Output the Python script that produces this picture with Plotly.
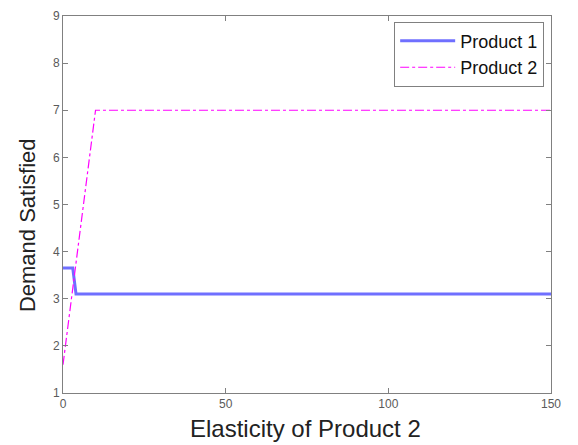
import plotly.graph_objects as go

p1_x = [0, 3, 4, 150]
p1_y = [3.65, 3.65, 3.1, 3.1]
p2_x = [0, 10, 150]
p2_y = [1.6, 7.0, 7.0]
x_ticks = [0, 50, 100, 150]
y_ticks = [1, 2, 3, 4, 5, 6, 7, 8, 9]
x_title = "Elasticity of Product 2"
y_title = "Demand Satisfied"

fig = go.Figure()
fig.add_trace(go.Scatter(x=p1_x, y=p1_y, mode="lines", name="Product 1",
                         line=dict(color="#6f6fff", width=3)))
fig.add_trace(go.Scatter(x=p2_x, y=p2_y, mode="lines", name="Product 2",
                         line=dict(color="#ff00ff", width=1.2, dash="dashdot")))

axis_common = dict(showgrid=False, zeroline=False, showline=True, linecolor="#808080",
                   linewidth=1, mirror="ticks", ticks="inside", ticklen=5, tickcolor="#808080",
                   tickfont=dict(family="Liberation Sans, Arial", size=12, color="#5a5a5a"))
fig.update_xaxes(range=[0, 150], tickvals=x_ticks, **axis_common)
fig.update_yaxes(range=[1, 9], tickvals=y_ticks, **axis_common)

title_font = dict(family="Liberation Sans, Arial", size=24, color="#222222")
fig.add_annotation(text=x_title, xref="paper", yref="paper", x=0.497, y=-0.094,
                   xanchor="center", yanchor="middle", showarrow=False, font=title_font)
fig.add_annotation(text=y_title, xref="paper", yref="paper", x=-0.074, y=0.445,
                   xanchor="center", yanchor="middle", textangle=-90, showarrow=False,
                   font=dict(family="Liberation Sans, Arial", size=22, color="#222222"))

fig.update_layout(
    width=578, height=445,
    margin=dict(l=63, r=27, t=9, b=52),
    plot_bgcolor="white", paper_bgcolor="white",
    font=dict(family="Liberation Sans, Arial"),
    legend=dict(x=0.986, y=0.985, xanchor="right", yanchor="top",
                bgcolor="white", bordercolor="#808080", borderwidth=1,
                font=dict(size=18, color="#111111"), tracegroupgap=0, itemwidth=55),
)
fig.write_html("out.html")
